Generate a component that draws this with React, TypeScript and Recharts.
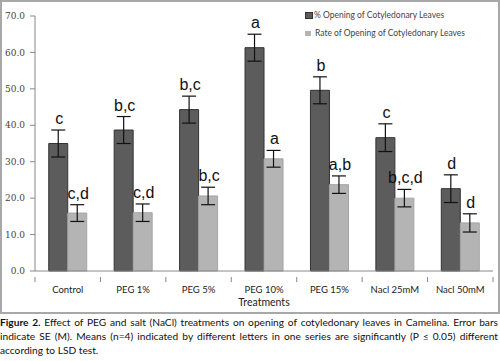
import React from "react";
import {
  BarChart,
  Bar,
  XAxis,
  YAxis,
  ErrorBar,
  LabelList,
  Legend,
} from "recharts";

const treatments = [
  "Control",
  "PEG 1%",
  "PEG 5%",
  "PEG 10%",
  "PEG 15%",
  "Nacl 25mM",
  "Nacl 50mM",
];
const openingPct = [35.0, 38.7, 44.3, 61.3, 49.6, 36.6, 22.6];
const openingSE = [3.7, 3.7, 3.7, 3.7, 3.7, 3.8, 3.8];
const openingLetters = ["c", "b,c", "b,c", "a", "b", "c", "d"];
const openingRate = [15.9, 16.0, 20.6, 30.8, 23.7, 20.0, 13.2];
const rateSE = [2.3, 2.4, 2.4, 2.3, 2.4, 2.4, 2.5];
const rateLetters = ["c,d", "c,d", "b,c", "a", "a,b", "b,c,d", "d"];
const yTicks = [0, 10, 20, 30, 40, 50, 60, 70];

const DARK = "#5c5c5c";
const LIGHT = "#b4b4b4";

const data = treatments.map((t, i) => ({
  name: t,
  pct: openingPct[i],
  pctSE: openingSE[i],
  rate: openingRate[i],
  rateSE: rateSE[i],
}));

const makeLetter =
  (letters: string[], errs: number[]) => (props: any) => {
    const { x, y, width, height, value, index } = props;
    const ppu = Number(height) / Number(value);
    const top = Number(y) - errs[index] * ppu;
    return (
      <text
        x={Number(x) + Number(width) / 2 + 1}
        y={top - 6}
        textAnchor="middle"
        fontSize={16}
        fontFamily="Liberation Sans, Arial, sans-serif"
        fill="#111"
      >
        {letters[index]}
      </text>
    );
  };

const XTick = (props: any) => {
  const { x, y, payload, index } = props;
  const band = 458 / 7;
  return (
    <g>
      <line x1={x - band / 2} x2={x - band / 2} y1={y - 2} y2={y + 3} stroke="#888" />
      {index === treatments.length - 1 && (
        <line x1={x + band / 2} x2={x + band / 2} y1={y - 2} y2={y + 3} stroke="#888" />
      )}
      <text
        x={x}
        y={y + 14}
        textAnchor="middle"
        fontSize={9.5}
        fontFamily="Lato, sans-serif"
        fill="#222"
      >
        {payload.value}
      </text>
    </g>
  );
};

const LegendBox = () => (
  <div style={{ fontFamily: "Lato, sans-serif", fontSize: 8.5, color: "#444" }}>
    <div style={{ display: "flex", alignItems: "center", height: 12 }}>
      <span style={{ width: 6, height: 5, background: DARK, border: "1px solid #333", marginRight: 1 }} />
      % Opening of Cotyledonary Leaves
    </div>
    <div style={{ display: "flex", alignItems: "center", height: 12, marginTop: 6 }}>
      <span style={{ width: 6, height: 5, background: LIGHT, marginRight: 4 }} />
      Rate of Opening of Cotyledonary Leaves
    </div>
  </div>
);

const captionLine: React.CSSProperties = {
  whiteSpace: "nowrap",
  textAlign: "justify",
  textAlignLast: "justify",
  height: 14,
  lineHeight: "14px",
};

export default function App() {
  return (
    <div style={{ position: "absolute", left: 0, top: 0, width: 500, height: 361, background: "#fff" }}>
      <div style={{ position: "relative", width: 500, height: 314 }}>
        <BarChart
          width={500}
          height={314}
          data={data}
          margin={{ top: 16, right: 7, left: 0, bottom: 0 }}
          barCategoryGap="21%"
          barGap={0}
        >
          <YAxis
            width={35}
            domain={[0, 70]}
            ticks={yTicks}
            tickFormatter={(v: number) => v.toFixed(1)}
            stroke="#888"
            tickSize={5}
            tickMargin={5}
            tick={{ fontSize: 9, fontFamily: "DejaVu Serif, serif", fill: "#444" }}
          />
          <XAxis
            dataKey="name"
            height={43}
            stroke="#888"
            tickLine={false}
            tick={<XTick />}
            interval={0}
            label={{
              value: "Treatments",
              position: "insideBottom",
              offset: 8,
              fontSize: 10.5,
              fontFamily: "Lato, sans-serif",
              fill: "#222",
            }}
          />
          <Legend
            layout="horizontal"
            verticalAlign="middle"
            align="center"
            content={<LegendBox />}
            wrapperStyle={{ top: 9, left: 305, width: 190 }}
          />
          <Bar dataKey="pct" fill={DARK} stroke="#333" strokeWidth={1} isAnimationActive={false}>
            <ErrorBar dataKey="pctSE" width={7} stroke="#111" strokeWidth={1.2} />
            <LabelList dataKey="pct" content={makeLetter(openingLetters, openingSE)} />
          </Bar>
          <Bar dataKey="rate" fill={LIGHT} stroke="#a5a5a5" strokeWidth={1} isAnimationActive={false}>
            <ErrorBar dataKey="rateSE" width={7} stroke="#111" strokeWidth={1.2} />
            <LabelList dataKey="rate" content={makeLetter(rateLetters, rateSE)} />
          </Bar>
        </BarChart>
        <div
          style={{
            position: "absolute",
            inset: 0,
            border: "2px solid #a8a8a8",
            boxSizing: "border-box",
            pointerEvents: "none",
          }}
        />
      </div>
      <div
        style={{
          width: 498,
          fontFamily: "Lato, sans-serif",
          fontSize: 10.2,
          color: "#111",
          marginTop: 1,
        }}
      >
        <div style={captionLine}>
          <b>Figure 2.</b> Effect of PEG and salt (NaCl) treatments on opening of cotyledonary leaves in Camelina. Error bars
        </div>
        <div style={captionLine}>
          indicate SE (M). Means (n=4) indicated by different letters in one series are significantly (P ≤ 0.05) different
        </div>
        <div style={{ height: 14, lineHeight: "14px" }}>according to LSD test.</div>
      </div>
    </div>
  );
}
